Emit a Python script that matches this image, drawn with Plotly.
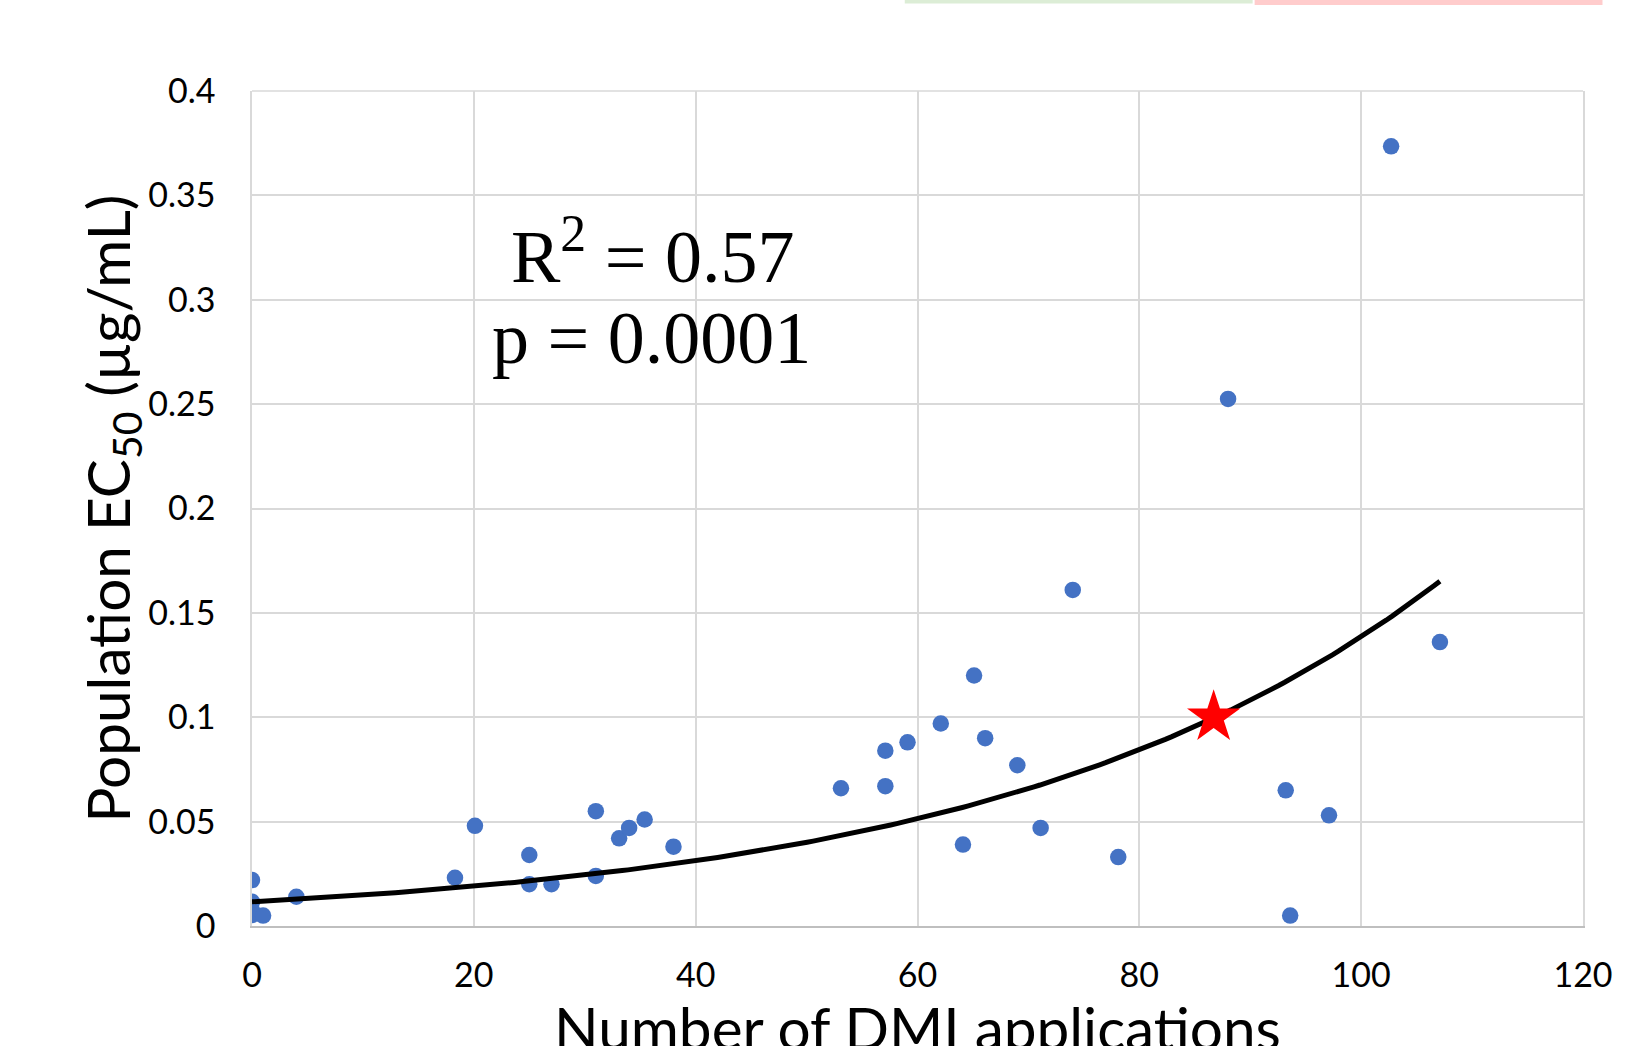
import numpy as np
import plotly.graph_objects as go

# ---- data ----
dmi_apps = [0, 0, 0, 0, 1.0, 4.0, 18.3, 20.1, 25.0, 25.0, 27.0, 31.0, 31.0, 33.1, 34.0,
            35.4, 38.0, 53.1, 57.1, 57.1, 59.1, 62.1, 64.1, 65.1, 66.1, 69.0, 71.1, 74.0,
            78.1, 88.0, 93.2, 93.6, 97.1, 102.7, 107.1]
ec50 = [0.022, 0.0116, 0.0075, 0.0053, 0.005, 0.014, 0.0231, 0.048, 0.034, 0.020, 0.020,
        0.024, 0.055, 0.042, 0.047, 0.051, 0.038, 0.066, 0.084, 0.067, 0.088, 0.097,
        0.039, 0.120, 0.090, 0.077, 0.047, 0.161, 0.033, 0.2525, 0.065, 0.005, 0.053,
        0.3735, 0.136]

star_x = [86.7]
star_y = [0.100]

# exponential trendline y = a * exp(b * x), parameters
trend_a = 0.0116
trend_b = 0.0248
trend_x_range = [0.0, 107.1]

x_ticks = [0, 20, 40, 60, 80, 100, 120]
y_ticks = [0, 0.05, 0.1, 0.15, 0.2, 0.25, 0.3, 0.35, 0.4]
y_tick_labels = ["0", "0.05", "0.1", "0.15", "0.2", "0.25", "0.3", "0.35", "0.4"]

stat_lines = ["R<sup>2</sup> = 0.57", "p = 0.0001"]
x_title = "Number of DMI applications"
y_title = "Population EC<sub>50</sub> (µg/mL)"

tx = np.linspace(trend_x_range[0], trend_x_range[1], 200)
ty = trend_a * np.exp(trend_b * tx)

fig = go.Figure()
fig.add_trace(go.Scatter(x=dmi_apps, y=ec50, mode="markers",
                         marker=dict(color="#4472C4", size=16.5), hoverinfo="x+y"))
fig.add_trace(go.Scatter(x=tx, y=ty, mode="lines",
                         line=dict(color="black", width=5)))
fig.add_trace(go.Scatter(x=star_x, y=star_y, mode="markers",
                         marker=dict(symbol="star", color="#FF0000", size=40,
                                     line=dict(width=0))))

# body margin is removed in the page (see post_script), so figure = window
W, H = 1651, 1046
L, R, T, B = 252, 67.5, 90.5, 120
pw, ph = W - L - R, H - T - B

def px2paper_x(px):  # px in screen pixels
    return (px - L) / pw

def px2paper_y(py):
    return (H - B - py) / ph

tick_font = dict(family="Lato, Carlito, sans-serif", size=34, color="black")

fig.update_layout(
    width=W, height=H,
    margin=dict(l=L, r=R, t=T, b=B),
    paper_bgcolor="white", plot_bgcolor="white",
    showlegend=False,
    xaxis=dict(range=[0, 120], tickvals=x_ticks, ticktext=[str(v) for v in x_ticks],
               showgrid=True, gridcolor="#d9d9d9", gridwidth=1.5,
               showline=True, linecolor="#bfbfbf", linewidth=2,
               zeroline=False, ticks="", tickfont=tick_font, ticklabelstandoff=18),
    yaxis=dict(range=[0, 0.4], tickvals=y_ticks, ticktext=y_tick_labels,
               showgrid=True, gridcolor="#d9d9d9", gridwidth=1.5,
               showline=True, linecolor="#d9d9d9", linewidth=1.5, mirror=True,
               zeroline=False, ticks="", tickfont=tick_font, ticklabelstandoff=28),
)

# top border of the plot area
fig.add_shape(type="line", xref="paper", yref="paper", x0=0, x1=1, y0=1, y1=1,
              line=dict(color="#d9d9d9", width=1.5))

# thin coloured strips at the top edge of the image
fig.add_shape(type="rect", xref="paper", yref="paper",
              x0=px2paper_x(905), x1=px2paper_x(1253), y0=px2paper_y(3), y1=px2paper_y(-2),
              line=dict(width=0), fillcolor="#dcedd6")
fig.add_shape(type="rect", xref="paper", yref="paper",
              x0=px2paper_x(1255), x1=px2paper_x(1603), y0=px2paper_y(4.5), y1=px2paper_y(-2),
              line=dict(width=0), fillcolor="#ffcccc")

serif = dict(family="Liberation Serif, Times New Roman, serif", size=74, color="black")
fig.add_annotation(text=stat_lines[0], xref="paper", yref="paper",
                   x=px2paper_x(653), y=px2paper_y(251), xanchor="center", yanchor="middle",
                   showarrow=False, font=serif)
fig.add_annotation(text=stat_lines[1], xref="paper", yref="paper",
                   x=px2paper_x(652), y=px2paper_y(338), xanchor="center", yanchor="middle",
                   showarrow=False, font=serif)

title_font = dict(family="Lato, Carlito, sans-serif", size=58.5, color="black")
fig.add_annotation(text=x_title, xref="paper", yref="paper",
                   x=0.5, y=px2paper_y(990), xanchor="center", yanchor="top",
                   showarrow=False, font=title_font)
fig.add_annotation(text=y_title, xref="paper", yref="paper", textangle=-90,
                   x=px2paper_x(111), y=0.5, xanchor="center", yanchor="middle",
                   showarrow=False, font=title_font)

fig.write_html("out.html", config={"displayModeBar": False},
               post_script="document.body.style.margin='0';document.body.style.overflow='hidden';")
